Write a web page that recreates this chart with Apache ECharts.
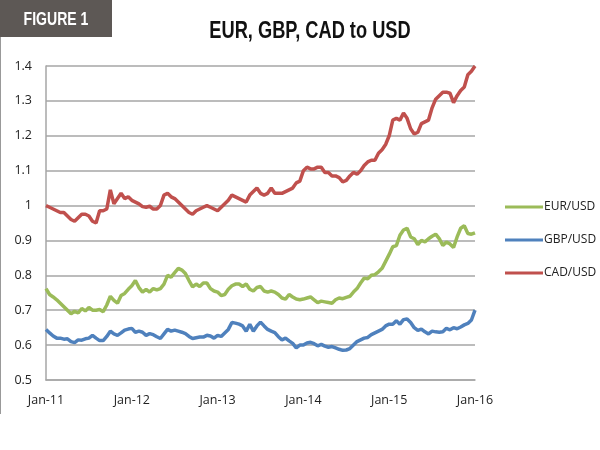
<!DOCTYPE html>
<html>
<head>
<meta charset="utf-8">
<title>EUR, GBP, CAD to USD</title>
<script src="https://cdn.jsdelivr.net/npm/echarts@6/dist/echarts.min.js"></script>
<style>
  html, body { margin: 0; padding: 0; background: #fff; }
  #main { width: 600px; height: 450px; }
</style>
</head>
<body>
<div id="main"></div>
<script>
// half-monthly readings, Jan-11 .. Jan-16 (121 points)
var tickLabels = ['Jan-11', 'Jan-12', 'Jan-13', 'Jan-14', 'Jan-15', 'Jan-16'];
var seriesNames = ['EUR/USD', 'GBP/USD', 'CAD/USD'];

var eur = [
  0.762,0.745,0.738,0.73,0.72,0.71,0.7,0.69,0.697,0.692,0.705,0.698,0.708,0.7,0.7,0.702,0.696,0.715,0.74,0.728,0.72,0.742,0.748,0.76,
  0.77,0.785,0.765,0.752,0.76,0.752,0.762,0.758,0.762,0.775,0.8,0.795,0.808,0.82,0.815,0.805,0.785,0.767,0.775,0.768,0.778,0.778,0.762,0.755,
  0.752,0.742,0.745,0.76,0.77,0.775,0.775,0.768,0.775,0.76,0.755,0.765,0.768,0.755,0.752,0.755,0.752,0.745,0.735,0.732,0.745,0.738,0.732,0.73,
  0.732,0.735,0.738,0.73,0.722,0.726,0.724,0.722,0.72,0.73,0.735,0.733,0.737,0.74,0.752,0.762,0.778,0.792,0.79,0.8,0.802,0.81,0.82,0.84,
  0.86,0.882,0.885,0.915,0.93,0.935,0.91,0.905,0.888,0.9,0.896,0.905,0.912,0.918,0.905,0.886,0.895,0.89,0.88,0.91,0.935,0.942,0.92,0.918,
  0.922
];
var gbp = [
  0.645,0.635,0.626,0.62,0.62,0.617,0.618,0.61,0.607,0.615,0.614,0.618,0.62,0.628,0.62,0.613,0.613,0.625,0.64,0.632,0.628,0.635,0.643,0.646,
  0.648,0.637,0.64,0.637,0.628,0.633,0.63,0.624,0.619,0.632,0.645,0.64,0.643,0.64,0.637,0.633,0.625,0.619,0.621,0.623,0.623,0.628,0.626,0.62,
  0.628,0.625,0.635,0.645,0.665,0.663,0.66,0.655,0.64,0.66,0.64,0.655,0.666,0.655,0.645,0.64,0.636,0.624,0.615,0.62,0.612,0.605,0.592,0.6,
  0.6,0.606,0.608,0.604,0.598,0.602,0.597,0.594,0.596,0.592,0.588,0.585,0.586,0.59,0.6,0.61,0.615,0.62,0.622,0.63,0.635,0.64,0.645,0.655,
  0.66,0.66,0.67,0.66,0.673,0.675,0.665,0.65,0.642,0.646,0.638,0.632,0.64,0.638,0.637,0.638,0.648,0.644,0.65,0.647,0.652,0.658,0.662,0.672,
  0.7
];
var cad = [
  1.0,0.995,0.99,0.985,0.98,0.98,0.97,0.96,0.955,0.965,0.975,0.975,0.97,0.955,0.95,0.985,0.985,0.99,1.045,1.005,1.02,1.035,1.02,1.025,
  1.015,1.01,1.005,0.997,0.995,0.998,0.99,0.99,1.0,1.03,1.035,1.025,1.02,1.01,1.0,0.99,0.98,0.975,0.985,0.99,0.995,1.0,0.995,0.99,
  0.985,0.995,1.005,1.015,1.03,1.025,1.02,1.015,1.01,1.03,1.04,1.05,1.035,1.03,1.035,1.05,1.035,1.035,1.035,1.04,1.045,1.05,1.065,1.07,
  1.1,1.11,1.105,1.105,1.11,1.11,1.095,1.095,1.085,1.085,1.08,1.068,1.072,1.085,1.095,1.09,1.1,1.115,1.125,1.13,1.13,1.15,1.16,1.175,
  1.2,1.245,1.25,1.245,1.265,1.25,1.22,1.205,1.21,1.235,1.24,1.245,1.28,1.305,1.315,1.325,1.325,1.322,1.295,1.315,1.33,1.34,1.375,1.385,
  1.4
];

// category names: two per month
var periods = []
for (var y = 2011; y <= 2015; y++) {
  for (var m = 1; m <= 12; m++) {
    var mm = m < 10 ? '0' + m : '' + m
    periods.push(y + '-' + mm + '-01')
    periods.push(y + '-' + mm + '-15')
  }
}
periods.push('2016-01-01')

var grey = '#a6a6a6'
var lab = '"Open Sans", "Noto Sans", sans-serif'
var heading = '"Liberation Sans", Arial, sans-serif'

var myChart = echarts.init(document.getElementById('main'))
var option = {
  backgroundColor: '#fff',
  animation: false,
  color: ['#9bbb59', '#4f81bd', '#c0504d'],
  graphic: [
    { type: 'rect', shape: { x: 0, y: 0, width: 112, height: 37 }, style: { fill: '#5d5855' } },
    // condensed look: squeeze the bold face horizontally
    { type: 'text', x: 56, y: 20, scaleX: 0.74,
      style: { text: 'FIGURE 1', x: 0, y: 0, textAlign: 'center', textVerticalAlign: 'middle',
        fill: '#fff', font: 'bold 19px ' + heading } },
    { type: 'line', shape: { x1: 0.5, y1: 37, x2: 0.5, y2: 414 }, style: { stroke: '#999', lineWidth: 1 } },
    { type: 'text', x: 310, y: 31, scaleX: 0.76,
      style: { text: 'EUR, GBP, CAD to USD', x: 0, y: 0, textAlign: 'center', textVerticalAlign: 'middle',
        fill: '#111', font: 'bold 24px ' + heading } }
  ],
  legend: {
    data: seriesNames,
    orient: 'vertical',
    left: 500,
    top: 196,
    itemWidth: 38,
    itemHeight: 3,
    itemGap: 21,
    icon: 'rect',
    textStyle: { fontFamily: lab, fontSize: 12, color: '#222', padding: [0, 0, 0, -4] }
  },
  grid: { left: 46, right: 125, top: 66, bottom: 70 },
  xAxis: {
    type: 'category',
    data: periods,
    boundaryGap: false,
    axisLine: { lineStyle: { color: grey, width: 1.5 } },
    axisTick: { show: false },
    axisLabel: {
      interval: 23,
      margin: 14,
      fontFamily: lab,
      fontSize: 12.5,
      color: '#222',
      formatter: function (v, i) { return tickLabels[Math.round(i / 24)] }
    },
    splitLine: { show: false }
  },
  yAxis: {
    type: 'value',
    min: 0.5,
    max: 1.4,
    interval: 0.1,
    axisLine: { show: true, lineStyle: { color: grey, width: 1.5 } },
    axisTick: { show: false },
    axisLabel: {
      margin: 14,
      fontFamily: lab,
      fontSize: 12.5,
      color: '#222',
      formatter: function (v) { return String(Math.round(v * 10) / 10) }
    },
    splitLine: { lineStyle: { color: grey, width: 1.5 } }
  },
  series: [
    { name: seriesNames[0], type: 'line', data: eur, showSymbol: false, lineStyle: { width: 3.5 } },
    { name: seriesNames[1], type: 'line', data: gbp, showSymbol: false, lineStyle: { width: 3.5 } },
    { name: seriesNames[2], type: 'line', data: cad, showSymbol: false, lineStyle: { width: 3.5 } }
  ]
}
myChart.setOption(option)
</script>
</body>
</html>
